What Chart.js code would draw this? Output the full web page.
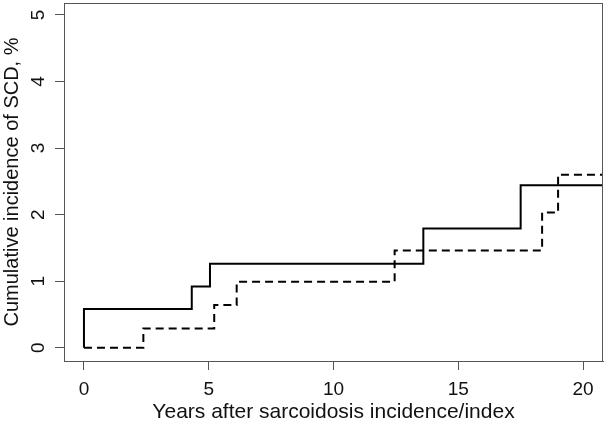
<!DOCTYPE html>
<html>
<head>
<meta charset="utf-8">
<script src="https://cdn.jsdelivr.net/npm/chart.js@4"></script>
<style>
  html, body { margin: 0; padding: 0; background: #fff; }
  #wrap { width: 606px; height: 423px; }
</style>
</head>
<body>
<div id="wrap"><canvas id="chart"></canvas></div>
<script>
// Curva contínua (sarcoidose) - anos e incidência acumulada (%)
const solidYears = [0, 0, 4.32, 5.05, 13.6, 17.5, 20.8];
const solidValues = [0, 0.58, 0.92, 1.26, 1.79, 2.44, 2.44];

// Curva tracejada (controles)
const dashedYears = [0, 2.38, 5.22, 6.12, 12.45, 18.36, 19.0, 20.8];
const dashedValues = [0, 0.29, 0.64, 0.99, 1.46, 2.03, 2.60, 2.60];

const xTicks = [0, 5, 10, 15, 20];
const yTicks = [0, 1, 2, 3, 4, 5];

const axisColor = '#555';
const textColor = '#111';
const fontFamily = '"Liberation Sans", Arial, Helvetica, sans-serif';

function toPoints(xs, ys) {
    return xs.map((x, i) => ({ x: x, y: ys[i] }));
}

// Desenha a moldura e os rótulos rotacionados do eixo y
const framePlugin = {
    id: 'frame',
    afterDraw(chart) {
        const ctx = chart.ctx;
        const area = chart.chartArea;
        const yScale = chart.scales.y;
        ctx.save();
        ctx.strokeStyle = axisColor;
        ctx.lineWidth = 1;
        ctx.strokeRect(area.left + 0.5, area.top + 0.5, area.right - area.left - 1, area.bottom - area.top);

        ctx.fillStyle = textColor;
        ctx.font = '19px ' + fontFamily;
        ctx.textAlign = 'center';
        ctx.textBaseline = 'middle';
        yTicks.forEach(v => {
            const y = yScale.getPixelForValue(v);
            ctx.save();
            ctx.translate(39, y);
            ctx.rotate(-Math.PI / 2);
            ctx.fillText(String(v), 0, 0);
            ctx.restore();
        });
        ctx.restore();
    }
};

const ctx = document.getElementById('chart').getContext('2d');

new Chart(ctx, {
    type: 'line',
    data: {
        datasets: [{
            data: toPoints(solidYears, solidValues),
            borderColor: '#000',
            borderWidth: 2,
            stepped: 'before',
            pointRadius: 0,
            fill: false
        }, {
            data: toPoints(dashedYears, dashedValues),
            borderColor: '#000',
            borderWidth: 2,
            borderDash: [8, 5],
            stepped: 'before',
            pointRadius: 0,
            fill: false
        }]
    },
    options: {
        responsive: true,
        maintainAspectRatio: false,
        animation: false,
        events: [],
        layout: { padding: { top: 3, right: 3, left: 0, bottom: 0 } },
        plugins: {
            legend: { display: false },
            tooltip: { enabled: false }
        },
        scales: {
            x: {
                type: 'linear',
                min: -0.8,
                max: 20.8,
                afterBuildTicks: scale => { scale.ticks = xTicks.map(v => ({ value: v })); },
                afterFit: scale => { scale.height = 62; },
                grid: {
                    drawOnChartArea: false,
                    drawTicks: true,
                    tickLength: 9,
                    color: axisColor
                },
                border: { display: true, color: axisColor, width: 1 },
                ticks: {
                    color: textColor,
                    font: { size: 19, family: fontFamily },
                    padding: 8,
                    maxRotation: 0,
                    autoSkip: false
                },
                title: {
                    display: true,
                    text: 'Years after sarcoidosis incidence/index',
                    color: textColor,
                    font: { size: 21, family: fontFamily },
                    padding: { top: 0, bottom: -2 }
                }
            },
            y: {
                type: 'linear',
                min: -0.2,
                max: 5.18,
                afterBuildTicks: scale => { scale.ticks = yTicks.map(v => ({ value: v })); },
                afterFit: scale => { scale.width = 64; },
                grid: {
                    drawOnChartArea: false,
                    drawTicks: true,
                    tickLength: 9,
                    color: axisColor
                },
                border: { display: true, color: axisColor, width: 1 },
                ticks: { display: false },
                title: {
                    display: true,
                    text: 'Cumulative incidence of SCD, %',
                    color: textColor,
                    font: { size: 20, family: fontFamily },
                    padding: { top: 0, bottom: 0 }
                }
            }
        }
    },
    plugins: [framePlugin]
});
</script>
</body>
</html>
